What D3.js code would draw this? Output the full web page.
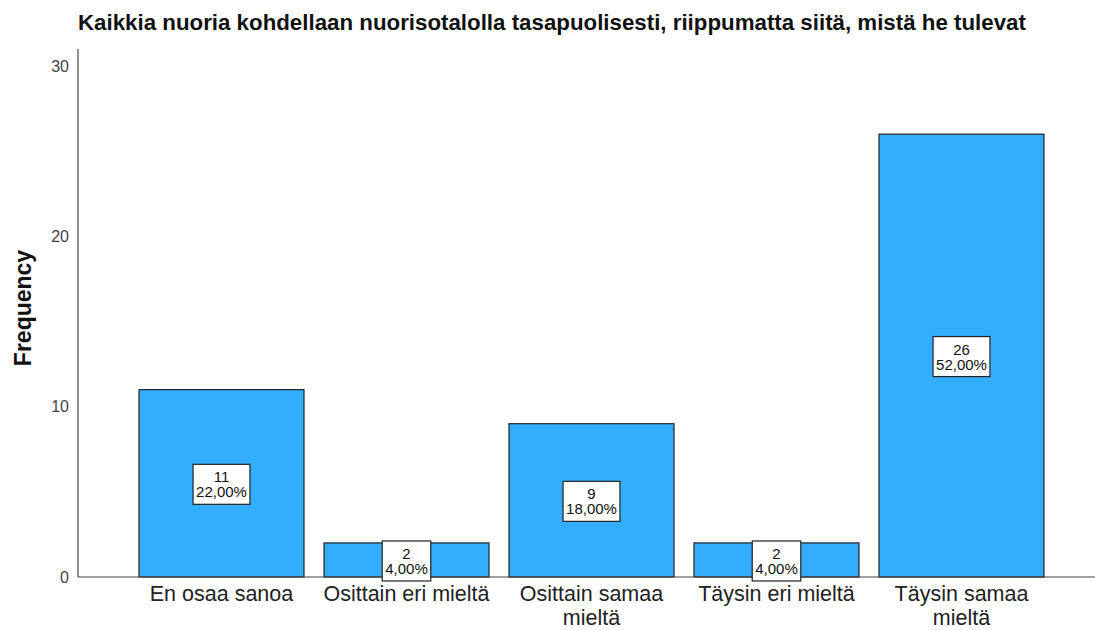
<!DOCTYPE html>
<html>
<head>
<meta charset="utf-8">
<script src="https://cdn.jsdelivr.net/npm/d3@7"></script>
<style>
  body { margin: 0; background: #fff; }
  svg { font-family: "Liberation Sans", Arial, sans-serif; }
</style>
</head>
<body>
<svg id="chart"></svg>
<script>
var width = 1095,
    height = 630;

var categories = ["En osaa sanoa", "Osittain eri mieltä", "Osittain samaa mieltä", "Täysin eri mieltä", "Täysin samaa mieltä"];
var counts = [11, 2, 9, 2, 26];
var percents = ["22,00%", "4,00%", "18,00%", "4,00%", "52,00%"];
var yTicks = [0, 10, 20, 30];
var title = "Kaikkia nuoria kohdellaan nuorisotalolla tasapuolisesti, riippumatta siitä, mistä he tulevat";

var svg = d3.select("#chart")
    .attr("width", width)
    .attr("height", height);

var axisX = 78;

var x = d3.scaleBand()
    .domain(categories)
    .range([129, 1054])
    .paddingInner(20 / 185)
    .paddingOuter(10 / 185);

var y = d3.scaleLinear()
    .domain([0, 30])
    .range([577, 66]);

// title
svg.append("text")
    .attr("x", axisX)
    .attr("y", 30)
    .style("font-size", "22.3px")
    .style("font-weight", "bold")
    .style("fill", "#111")
    .text(title);

// y axis label
svg.append("text")
    .attr("transform", "translate(31,308) rotate(-90)")
    .attr("text-anchor", "middle")
    .style("font-size", "23px")
    .style("font-weight", "bold")
    .style("fill", "#111")
    .text("Frequency");

// y axis
var yAxis = svg.append("g")
    .attr("transform", "translate(" + axisX + ",0)")
    .call(d3.axisLeft(y).tickValues(yTicks).tickSize(0).tickPadding(9));
yAxis.select(".domain").remove();
yAxis.selectAll("text")
    .style("font-size", "16px")
    .style("font-family", "'Liberation Sans', Arial, sans-serif")
    .style("fill", "#444");

svg.append("line")
    .attr("x1", axisX).attr("x2", axisX)
    .attr("y1", 49).attr("y2", y(0))
    .attr("stroke", "#444")
    .attr("stroke-width", 1.2);

// bars
svg.selectAll(".bar")
    .data(counts)
    .enter().append("rect")
    .attr("class", "bar")
    .attr("x", function(d, i) { return x(categories[i]); })
    .attr("y", function(d) { return y(d); })
    .attr("width", x.bandwidth())
    .attr("height", function(d) { return y(0) - y(d); })
    .attr("fill", "#33adff")
    .attr("stroke", "#222")
    .attr("stroke-width", 1.2);

// baseline
svg.append("line")
    .attr("x1", axisX).attr("x2", width)
    .attr("y1", y(0)).attr("y2", y(0))
    .attr("stroke", "#444")
    .attr("stroke-width", 1.2);

// value labels
var labels = svg.selectAll(".lbl")
    .data(counts)
    .enter().append("g")
    .attr("class", "lbl")
    .attr("transform", function(d, i) {
        return "translate(" + (x(categories[i]) + x.bandwidth() / 2) + "," + (y(d / 2) + 1) + ")";
    });

var box = labels.append("rect")
    .attr("y", -20)
    .attr("height", 40)
    .attr("fill", "#fff")
    .attr("stroke", "#222")
    .attr("stroke-width", 1.2);

labels.append("text")
    .attr("text-anchor", "middle")
    .attr("y", -2)
    .style("font-size", "15px")
    .style("fill", "#111")
    .text(function(d) { return d; });

var pct = labels.append("text")
    .attr("text-anchor", "middle")
    .attr("y", 13)
    .style("font-size", "15px")
    .style("fill", "#111")
    .text(function(d, i) { return percents[i]; });

pct.each(function(d, i) {
    var w = this.getComputedTextLength() + 6;
    d3.select(box.nodes()[i])
        .attr("x", -w / 2)
        .attr("width", w);
});

// category labels, wrapped when wider than the band
var cat = svg.selectAll(".cat")
    .data(categories)
    .enter().append("text")
    .attr("class", "cat")
    .attr("text-anchor", "middle")
    .attr("x", function(d) { return x(d) + x.bandwidth() / 2; })
    .attr("y", 601)
    .style("font-size", "21.5px")
    .style("fill", "#222")
    .text(function(d) { return d; });

cat.each(function(d) {
    var t = d3.select(this);
    if (this.getComputedTextLength() > 184) {
        var k = d.lastIndexOf(" ");
        var cx = x(d) + x.bandwidth() / 2;
        t.text(null);
        t.append("tspan").attr("x", cx).attr("dy", 0).text(d.slice(0, k));
        t.append("tspan").attr("x", cx).attr("dy", 24).text(d.slice(k + 1));
    }
});
</script>
</body>
</html>
